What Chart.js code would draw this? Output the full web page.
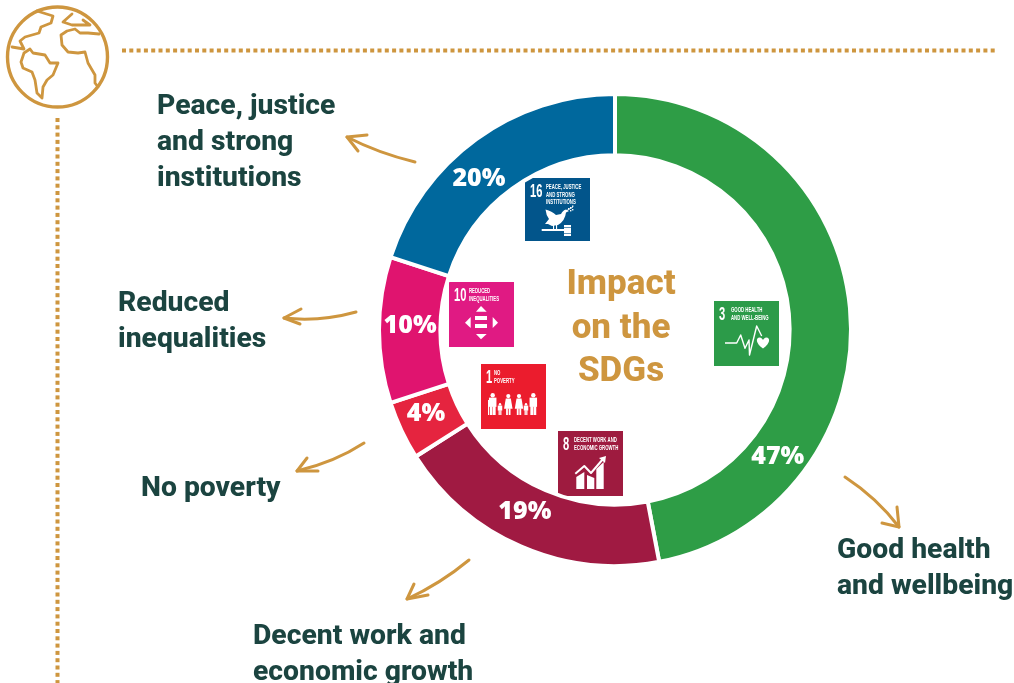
<!DOCTYPE html>
<html>
<head>
<meta charset="utf-8">
<title>Impact on the SDGs</title>
<script src="https://cdn.jsdelivr.net/npm/chart.js@4"></script>
<style>
  html, body { margin: 0; padding: 0; background: #fff; overflow: hidden; }
  canvas { display: block; }
</style>
</head>
<body>
<canvas id="chart" width="1014" height="683"></canvas>
<script>
// Share of impact per Sustainable Development Goal, clockwise from twelve o'clock
const goals = ['Good health and wellbeing', 'Decent work and economic growth', 'No poverty', 'Reduced inequalities', 'Peace, justice and strong institutions'];
const shares = [47, 19, 4, 10, 20];
const ringColors = ['#2E9D46', '#A01A42', '#E5243F', '#E0146F', '#00689D'];

const GOLD = '#CE963F';
const INK = '#1B4440';
const HEAD_FONT = 'Roboto, sans-serif';

// Where each percentage sits on its segment: fraction along the arc, and radius
const percentSpots = [
  { at: 0.354, r: 205 }, { at: 0.574, r: 201 }, { at: 0.685, r: 206 }, { at: 0.7555, r: 205 }, { at: 0.8845, r: 205 }
];

// Outer captions
const captions = [
  { lines: ['Peace, justice', 'and strong', 'institutions'], x: 157, y: 114 },
  { lines: ['Reduced', 'inequalities'], x: 118, y: 311 },
  { lines: ['No poverty'], x: 141, y: 496 },
  { lines: ['Decent work and', 'economic growth'], x: 253, y: 644 },
  { lines: ['Good health', 'and wellbeing'], x: 837, y: 558 }
];

// Hand-drawn pointers: start, control, tip, then the two barb ends
const pointers = [
  [415, 162, 378, 153, 347, 137, 367, 135, 358, 151],
  [356, 312, 320, 322, 284, 318, 301, 309, 300, 324],
  [364, 443, 335, 462, 297, 471, 307, 458, 318, 471],
  [469, 560, 440, 584, 407, 599, 414, 584, 428, 595],
  [845, 477, 877, 498, 899, 527, 882, 523, 897, 507]
];

// Goal tiles
const tiles = [
  { n: '16', x: 525, y: 178, h: 63, tx: 21, color: '#02558B', text: ['PEACE, JUSTICE', 'AND STRONG', 'INSTITUTIONS'], draw: peaceIcon },
  { n: '10', x: 449, y: 282, h: 65, tx: 20, color: '#E01A83', text: ['REDUCED', 'INEQUALITIES'], draw: inequalityIcon },
  { n: '3',  x: 714, y: 301, h: 65, tx: 17, color: '#2C9B49', text: ['GOOD HEALTH', 'AND WELL-BEING'], draw: healthIcon },
  { n: '1',  x: 481, y: 364, h: 65, tx: 13, color: '#EB1C2D', text: ['NO', 'POVERTY'], draw: familyIcon },
  { n: '8',  x: 558, y: 431, h: 65, tx: 16, color: '#9E1B3F', text: ['DECENT WORK AND', 'ECONOMIC GROWTH'], draw: growthIcon }
];

function poly(c, pts, close) {
  c.beginPath();
  pts.forEach((p, i) => i ? c.lineTo(p[0], p[1]) : c.moveTo(p[0], p[1]));
  if (close) c.closePath();
}

function inequalityIcon(c) {
  [[[32, 24], [37.7, 29.7], [27, 29.7]], [[27, 52], [37.7, 52], [32, 57.3]],
   [[16, 40.7], [21.7, 35], [21.7, 46]], [[49, 40.7], [43.7, 35], [43.7, 46]]].forEach(t => { poly(c, t, true); c.fill(); });
  c.fillRect(26, 34, 12, 4);
  c.fillRect(26, 42, 12, 4);
}

function healthIcon(c) {
  c.lineWidth = 1.4;
  poly(c, [[11, 42], [22.7, 42], [26.7, 34], [31, 47.3], [35, 39], [35.5, 54], [42.7, 25], [47.7, 35]]);
  c.stroke();
  c.beginPath();
  c.moveTo(49, 47.5);
  c.bezierCurveTo(41, 42, 42, 36.5, 45.5, 36.5);
  c.bezierCurveTo(47.5, 36.5, 48.5, 38, 49, 39);
  c.bezierCurveTo(49.5, 38, 50.5, 36.5, 52.5, 36.5);
  c.bezierCurveTo(56, 36.5, 57, 42, 49, 47.5);
  c.fill();
}

function familyIcon(c) {
  const figure = (x, top, h, w, dress) => {
    c.beginPath();
    c.arc(x, top + h * 0.1, h * 0.1, 0, Math.PI * 2);
    c.fill();
    if (dress) {
      poly(c, [[x - 2.5, top + h * 0.21], [x + 2.5, top + h * 0.21], [x + w / 2 + 1, top + h * 0.7], [x - w / 2 - 1, top + h * 0.7]], true);
      c.fill();
      c.fillRect(x - 2.2, top + h * 0.68, 1.8, h * 0.32);
      c.fillRect(x + 0.4, top + h * 0.68, 1.8, h * 0.32);
    } else {
      c.fillRect(x - w / 2, top + h * 0.21, w, h * 0.42);
      c.fillRect(x - w / 2 + 0.8, top + h * 0.6, w / 2 - 1, h * 0.4);
      c.fillRect(x + 0.2, top + h * 0.6, w / 2 - 1, h * 0.4);
    }
  };
  figure(11.7, 29, 22, 7.5, false);
  figure(19, 39, 12, 4.5, false);
  figure(27.3, 30, 21, 6.5, true);
  figure(38, 30, 21, 6.5, true);
  figure(45, 39, 12, 4.5, false);
  figure(52.3, 29, 22, 7.5, false);
  c.fillRect(7, 36, 1, 15);
}

function growthIcon(c) {
  [[18.3, 46, 26.3, 41], [29, 44, 36.3, 47], [38.3, 38, 45.7, 31]].forEach(b => {
    poly(c, [[b[0], b[1]], [b[2], b[3]], [b[2], 58], [b[0], 58]], true);
    c.fill();
  });
  c.lineWidth = 2;
  poly(c, [[17.3, 42.7], [26.3, 35], [33, 42], [45, 28]]);
  c.stroke();
  poly(c, [[48, 25], [47, 32], [41, 27]], true);
  c.fill();
}

function peaceIcon(c) {
  // Dove with spread wing and olive branch, perched on a gavel
  c.beginPath();
  c.moveTo(20.5, 31.5);
  c.quadraticCurveTo(27, 33, 31, 37);
  c.lineTo(36, 36);
  c.quadraticCurveTo(38, 32, 41, 31.5);
  c.lineTo(44, 33);
  c.lineTo(41, 34.5);
  c.quadraticCurveTo(40, 43, 33, 47);
  c.lineTo(27, 48);
  c.lineTo(23, 46);
  c.lineTo(20, 46);
  c.lineTo(24, 41);
  c.quadraticCurveTo(21, 37, 20.5, 31.5);
  c.closePath();
  c.fill();
  c.lineWidth = 0.9;
  poly(c, [[41, 33], [48, 29]]);
  c.stroke();
  [[43, 30], [45, 29], [47, 27.5], [45, 32], [47, 31]].forEach(l => c.fillRect(l[0], l[1], 1.4, 1.4));
  c.fillRect(28, 47, 1.1, 5);
  c.fillRect(31, 47, 1.1, 5);
  c.fillRect(16.7, 51, 23, 2);
  c.fillRect(39, 47, 7, 11);
  c.fillStyle = 'rgba(2,85,139,0.9)';
  c.fillRect(39, 49, 7, 0.7);
  c.fillRect(39, 55, 7, 0.7);
  c.fillStyle = '#fff';
}

// Condensed tile lettering: Liberation Sans squeezed horizontally
function squeezed(c, text, x, y, font, squeeze) {
  c.save();
  c.translate(x, y);
  c.scale(squeeze, 1);
  c.font = font;
  c.fillText(text, 0, 0);
  c.restore();
}

// Annotations around and inside the ring
const artwork = {
  id: 'artwork',
  beforeDatasetsDraw(chart) {
    const c = chart.ctx;
    c.save();

    // Dotted rules leaving the globe
    c.fillStyle = GOLD;
    for (let x = 122; x < 996; x += 7.3) c.fillRect(x, 48.5, 4, 4);
    for (let y = 118; y < 683; y += 7.3) c.fillRect(55.5, y, 4, 4);

    // Globe
    c.strokeStyle = GOLD;
    c.lineWidth = 3.4;
    c.lineJoin = 'round';
    c.lineCap = 'round';
    c.beginPath();
    c.arc(57.5, 57, 50, 0, Math.PI * 2);
    c.stroke();
    c.lineWidth = 2.8;
    const land = [
      [[37, 11], [53, 16], [51, 23], [41, 27], [39, 33], [25, 37], [20, 41], [24, 49], [12, 47]],
      [[24, 53], [30, 49], [33, 53], [45, 55], [50, 63], [58, 63], [53, 75], [47, 80], [43, 87], [42, 98], [37, 93], [35, 80], [32, 72], [23, 68], [21, 62], [24, 53]],
      [[72, 14], [63, 22], [72, 25], [90, 25], [83, 20]],
      [[99, 34], [88, 33], [80, 33], [75, 29], [67, 31], [61, 35], [62, 45], [68, 52], [78, 53], [85, 52], [88, 63], [95, 75], [95, 83], [98, 87]]
    ];
    land.forEach(l => { poly(c, l); c.stroke(); });

    // Pointers
    c.lineWidth = 3;
    pointers.forEach(p => {
      c.beginPath();
      c.moveTo(p[0], p[1]);
      c.quadraticCurveTo(p[2], p[3], p[4], p[5]);
      c.stroke();
      poly(c, [[p[6], p[7]], [p[4], p[5]], [p[8], p[9]]]);
      c.stroke();
    });

    // Captions
    c.fillStyle = INK;
    c.textAlign = 'left';
    c.textBaseline = 'alphabetic';
    c.font = '800 28.3px ' + HEAD_FONT;
    captions.forEach(k => k.lines.forEach((line, i) => c.fillText(line, k.x, k.y + i * 36)));

    // Centre title
    c.fillStyle = GOLD;
    c.textAlign = 'center';
    c.font = '800 35px ' + HEAD_FONT;
    ['Impact', 'on the', 'SDGs'].forEach((line, i) => c.fillText(line, 621, 294 + i * 43.5));

    // Goal tiles
    tiles.forEach(t => {
      c.save();
      c.translate(t.x, t.y);
      c.fillStyle = t.color;
      c.fillRect(0, 0, 65, t.h);
      c.fillStyle = '#fff';
      c.strokeStyle = '#fff';
      c.lineCap = 'butt';
      c.textAlign = 'left';
      squeezed(c, t.n, 5, 19, 'bold 18px "Liberation Sans", sans-serif', 0.62);
      t.text.forEach((line, i) => squeezed(c, line, t.tx, 11 + i * 7.5, 'bold 6.5px "Liberation Sans", sans-serif', 0.66));
      t.draw(c);
      c.restore();
    });
    c.restore();
  },
  afterDatasetsDraw(chart) {
    const c = chart.ctx;
    const arc = chart.getDatasetMeta(0).data[0];
    c.save();
    c.fillStyle = '#fff';
    c.textAlign = 'center';
    c.textBaseline = 'middle';
    c.font = '800 25px "Open Sans", Arial, sans-serif';
    percentSpots.forEach((s, i) => {
      const a = s.at * Math.PI * 2 - Math.PI / 2;
      c.fillText(shares[i] + '%', arc.x + Math.cos(a) * s.r, arc.y + Math.sin(a) * s.r + 2.5);
    });
    c.restore();
  }
};

new Chart(document.getElementById('chart'), {
  type: 'doughnut',
  data: {
    labels: goals,
    datasets: [{
      data: shares,
      backgroundColor: ringColors,
      borderColor: '#fff',
      borderWidth: 4
    }]
  },
  options: {
    responsive: false,
    animation: false,
    cutout: '74%',
    layout: { padding: { left: 377, right: 161, top: 92, bottom: 115 } },
    plugins: { legend: { display: false }, tooltip: { enabled: false } }
  },
  plugins: [artwork]
});
</script>
</body>
</html>
